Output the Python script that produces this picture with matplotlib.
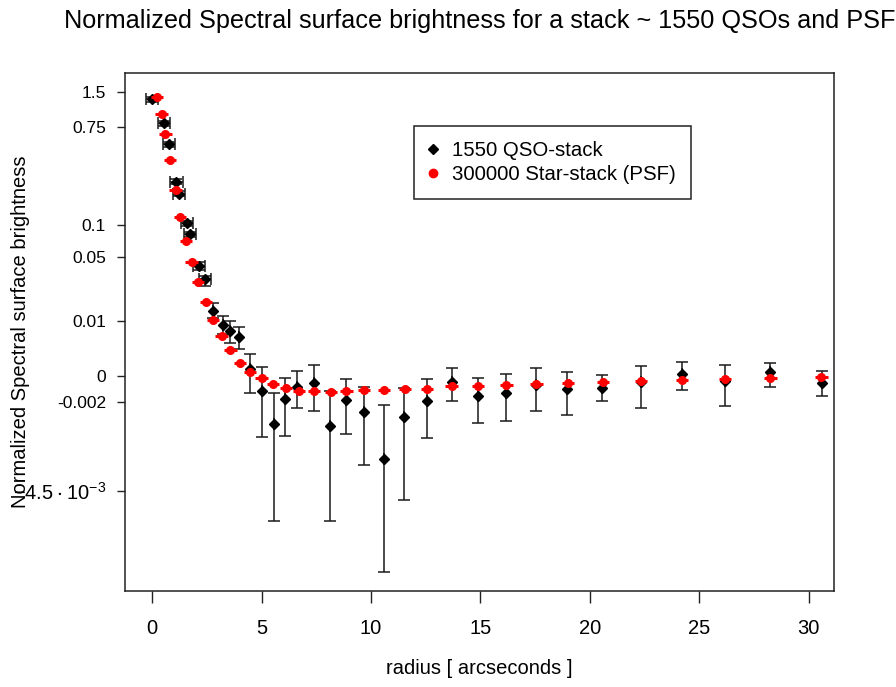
import numpy as np
import matplotlib
matplotlib.use("Agg")
import matplotlib.pyplot as plt
from matplotlib.lines import Line2D
from matplotlib.ticker import NullLocator

plt.rcParams['font.family'] = ['Liberation Sans', 'DejaVu Sans']

# ---------------- data ----------------
qso_r = [0.0, 0.53, 0.78, 1.11, 1.23, 1.60, 1.72, 2.13, 2.41, 2.79, 3.22, 3.55, 3.97, 4.46,
         5.00, 5.56, 6.08, 6.62, 7.39, 8.13, 8.85, 9.68, 10.60, 11.53, 12.54, 13.68, 14.89,
         16.19, 17.56, 18.96, 20.56, 22.33, 24.21, 26.16, 28.25, 30.61]
qso_sb = [1.30, 0.80, 0.526, 0.244, 0.190, 0.103, 0.082, 0.041, 0.030, 0.0136, 0.0089, 0.0074,
          0.0060, 0.00072, -0.00128, -0.00307, -0.00187, -0.00097, -0.00060, -0.00316, -0.00192,
          -0.00256, -0.00405, -0.00282, -0.00196, -0.00054, -0.00166, -0.00147, -0.00083,
          -0.00117, -0.00102, -0.00054, 0.00020, -0.00045, 0.00039, -0.00060]
qso_hi = [1.367, 0.842, 0.553, 0.257, 0.201, 0.108, 0.0865, 0.0448, 0.0323, 0.0166, 0.0118, 0.0101,
          0.0085, 0.0028, 0.00096, -0.00143, -0.00023, 0.00053, 0.00128, -0.00130, -0.00032,
          -0.00097, -0.00219, -0.00102, -0.00029, 0.00084, -0.00023, 0.00017, 0.00087, 0.00039,
          0.00007, 0.00115, 0.00159, 0.00128, 0.00146, 0.00056]
qso_lo = [1.236, 0.761, 0.500, 0.232, 0.181, 0.0975, 0.0777, 0.0374, 0.0257, 0.0111, 0.0066, 0.0047,
          0.0036, -0.00143, -0.00354, -0.004729, -0.00350, -0.00236, -0.00253, -0.004729, -0.00345,
          -0.00416, -0.004902, -0.004587, -0.00356, -0.00196, -0.00305, -0.00299, -0.00251,
          -0.00269, -0.00199, -0.00236, -0.00125, -0.00227, -0.00099, -0.00166]
qso_dr = [0.28, 0.28, 0.28, 0.28, 0.28, 0.28, 0.28, 0.28, 0.28, 0, 0, 0, 0, 0, 0, 0, 0, 0,
          0, 0, 0, 0, 0, 0, 0, 0, 0, 0, 0, 0, 0, 0, 0, 0, 0, 0]

psf_r = [0.23, 0.43, 0.61, 0.82, 1.07, 1.28, 1.55, 1.80, 2.10, 2.45, 2.79, 3.17, 3.58, 4.01,
         4.46, 5.00, 5.53, 6.11, 6.72, 7.39, 8.16, 8.88, 9.68, 10.60, 11.54, 12.56, 13.68,
         14.89, 16.19, 17.56, 19.00, 20.60, 22.33, 24.21, 26.16, 28.25, 30.58]
psf_sb = [1.37, 0.966, 0.640, 0.382, 0.204, 0.118, 0.071, 0.0448, 0.0279, 0.0173, 0.0104, 0.0062,
          0.0034, 0.00154, 0.00039, -0.00023, -0.00077, -0.00105, -0.00128, -0.00128, -0.00135,
          -0.00128, -0.00123, -0.00123, -0.00117, -0.00110, -0.00091, -0.00089, -0.00080,
          -0.00074, -0.00063, -0.00051, -0.00045, -0.00039, -0.00029, -0.00023, -0.00013]
psf_dr = [0.28] * 37

ytick_vals = [1.5, 0.75, 0.1, 0.05, 0.01, 0, -0.002, -0.0045]
ytick_labels = ['1.5', '0.75', '0.1', '0.05', '0.01', '0', '-0.002',
                r'$\mathregular{-4.5\cdot10^{-3}}$']
xtick_vals = [0, 5, 10, 15, 20, 25, 30]
legend_labels = ['1550 QSO-stack', '300000 Star-stack (PSF)']

# ---------------- scale ----------------
OFFSET = 0.005


def fwd(y):
    return np.log10(np.maximum(np.asarray(y, dtype=float) + OFFSET, 1e-12))


def inv(t):
    return 10 ** np.asarray(t, dtype=float) - OFFSET


W, H = 896, 687
fig = plt.figure(figsize=(W / 100, H / 100), dpi=100)
L, R, T, B = 125, 834.3, 72.7, 590.7
ax = fig.add_axes([L / W, 1 - B / H, (R - L) / W, (B - T) / H])
ax.set_yscale('function', functions=(fwd, inv))

qs = np.array(qso_sb)
yerr = [qs - np.array(qso_lo), np.array(qso_hi) - qs]
ax.errorbar(qso_r, qso_sb, yerr=yerr, xerr=qso_dr, fmt='D', color='black', ms=5.5,
            ecolor='#1a1a1a', elinewidth=1.1, capsize=4.5, capthick=1.1, zorder=2)
ax.errorbar(psf_r, psf_sb, xerr=psf_dr, fmt='o', color='red', ms=5.5,
            ecolor='red', elinewidth=2.2, capsize=0, zorder=3)

ax.set_xlim(-1.24, 31.17)
ax.set_ylim(-0.004933, 2.223)

ax.set_xticks(xtick_vals)
ax.set_xticklabels([str(v) for v in xtick_vals])
ax.set_yticks(ytick_vals)
ax.set_yticklabels(ytick_labels)
ax.get_yticklabels()[-1].set_fontsize(14.5)
ax.yaxis.set_minor_locator(NullLocator())
ax.xaxis.set_minor_locator(NullLocator())
ax.tick_params(axis='x', length=8.7, width=1, pad=12, labelsize=14.5, colors='#222222',
               labelcolor='black')
ax.tick_params(axis='y', length=5.6, width=1, pad=8, colors='#222222',
               labelcolor='black')
for i, lab in enumerate(ax.get_yticklabels()):
    lab.set_fontsize(14.5 if i == len(ytick_vals) - 1 else 12.5)
for s in ax.spines.values():
    s.set_linewidth(1.1)
    s.set_color('#222222')

ax.set_xlabel('radius [ arcseconds ]', fontsize=14.5, va='center')
ax.xaxis.set_label_coords(0.5, (B - 668) / (B - T))
ax.set_ylabel('Normalized Spectral surface brightness', fontsize=14.5, va='center')
ax.yaxis.set_label_coords((21 - L) / (R - L), 0.5)

fig.text((L + R) / 2 / W, 1 - 28.3 / H,
         'Normalized Spectral surface brightness for a stack ~ 1550 QSOs and PSF',
         ha='center', va='baseline', fontsize=18.2)

handles = [Line2D([], [], ls='none', marker='D', color='black', ms=5),
           Line2D([], [], ls='none', marker='o', color='red', ms=6)]
leg = fig.legend(handles, legend_labels, loc='upper left',
                 bbox_to_anchor=(414 / W, 1 - 125.7 / H), fontsize=14.7, frameon=True,
                 fancybox=False, edgecolor='#222222', framealpha=1, borderpad=0.75,
                 handlelength=0.36, handletextpad=0.75, labelspacing=0.25, borderaxespad=0)
leg.get_frame().set_linewidth(1.1)

fig.savefig('out.png', dpi=100)
